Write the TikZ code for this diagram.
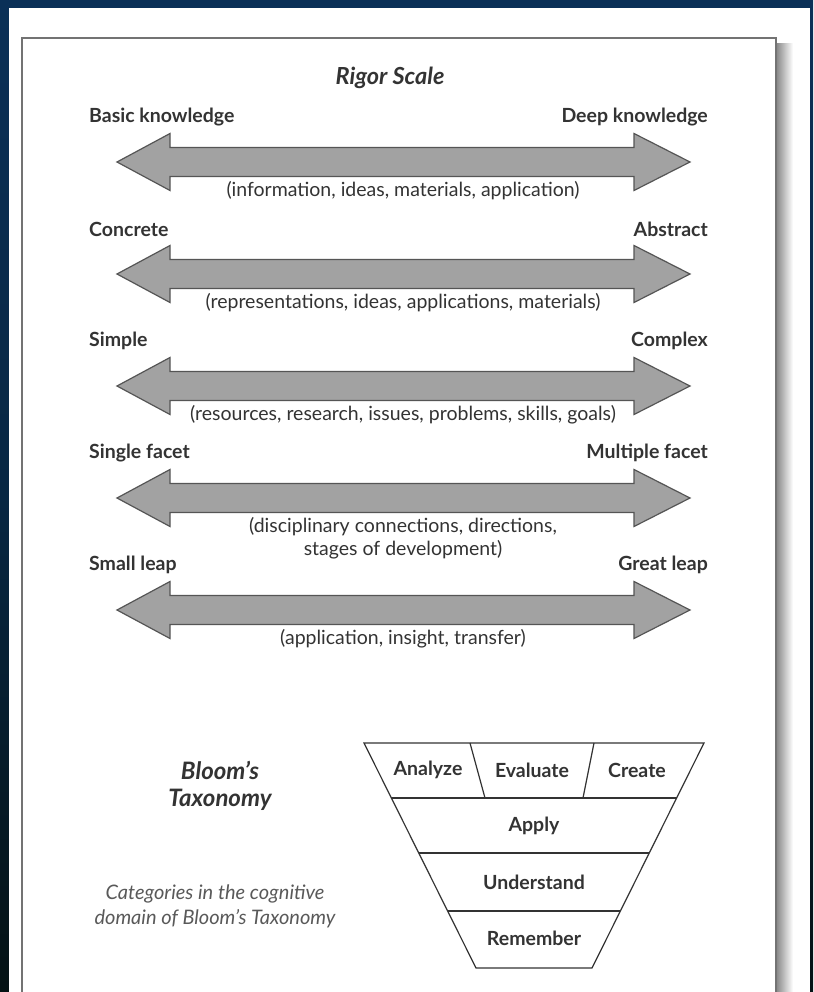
\documentclass[tikz,border=0pt]{standalone}
\usepackage{fontspec}
\setmainfont{Lato}
\usepackage{xcolor}

\definecolor{slidenavy}{HTML}{0A3057}
\definecolor{slidedark}{HTML}{041214}
\definecolor{inkgray}{HTML}{333333}
\definecolor{arrowfill}{HTML}{A2A2A2}
\definecolor{arrowedge}{HTML}{555555}

\tikzset{
	rigorarrow/.style={fill=arrowfill, draw=arrowedge, line width=1.2pt, line join=miter},
	sidelabel/.style={inner sep=0pt, text=inkgray, font=\fontsize{19.5}{22}\selectfont\bfseries},
	sublabel/.style={inner sep=0pt, text=inkgray, align=center, font=\fontsize{19.5}{23}\selectfont},
	bloomline/.style={draw=inkgray, line width=1.2pt},
	bloomlabel/.style={inner sep=0pt, text=inkgray, font=\fontsize{19.5}{22}\selectfont\bfseries}
}

\begin{document}
\begin{tikzpicture}[x=1pt,y=-1pt]
		\useasboundingbox (0,0) rectangle (813,992);
		\shade[top color=slidenavy, bottom color=slidedark, middle color=slidenavy!70!slidedark] (0,0) rectangle (813,992);
		\fill[white] (9,8) rectangle (810,992);
		\shade[left color=black!45, right color=white] (777,44) rectangle (793,992);
		\draw[black!55, line width=1.6pt] (22,1000) -- (22,38) -- (776,38) -- (776,1000);

		\node[inner sep=0pt, text=inkgray, font=\fontsize{23.5}{26}\selectfont\bfseries\itshape] (title) at (390,78) {Rigor Scale};

		\foreach \i/\lt/\rt/\sub in {
				1/Basic knowledge/Deep knowledge/{(information, ideas, materials, application)},
				2/Concrete/Abstract/{(representations, ideas, applications, materials)},
				3/Simple/Complex/{(resources, research, issues, problems, skills, goals)},
				4/Single facet/Multiple facet/{(disciplinary connections, directions,\\stages of development)},
				5/Small leap/Great leap/{(application, insight, transfer)}}
			{
				\pgfmathsetmacro{\yc}{50+112*\i}
				\filldraw[rigorarrow] (117,\yc) -- (170,\yc-28.5) -- (170,\yc-14.5) -- (634,\yc-14.5) -- (634,\yc-28.5) -- (690,\yc)
					-- (634,\yc+28.5) -- (634,\yc+14.5) -- (170,\yc+14.5) -- (170,\yc+28.5) -- cycle;
				\node[sidelabel, anchor=west] (l-\i) at (89,\yc-45) {\lt};
				\node[sidelabel, anchor=east] (r-\i) at (708,\yc-45) {\rt};
				\node[sublabel, anchor=north] (s-\i) at (403,\yc+19) {\sub};
			}

		\draw[bloomline] (364,743) -- (704,743) -- (592,968) -- (476,968) -- cycle;
		\foreach \yy in {798,853,911}
			\draw[bloomline] ({364+0.498*(\yy-743)},\yy) -- ({704-0.498*(\yy-743)},\yy);
		\draw[bloomline] (470,743) -- (485,798) (594,743) -- (583,798);
		\node[bloomlabel] (analyze) at (428,770) {Analyze};
		\node[bloomlabel] (evaluate) at (532,770) {Evaluate};
		\node[bloomlabel] (create) at (637,770) {Create};
		\node[bloomlabel] (apply) at (534,826) {Apply};
		\node[bloomlabel] (understand) at (534,882) {Understand};
		\node[bloomlabel] (remember) at (534,938) {Remember};

		\node[inner sep=0pt, text=inkgray, align=center, font=\fontsize{24}{27}\selectfont\bfseries\itshape] (bloom) at (220,786) {Bloom’s\\Taxonomy};
		\node[inner sep=0pt, text=black!65, align=center, font=\fontsize{20}{25}\selectfont\itshape] (caption) at (215,906) {Categories in the cognitive\\domain of Bloom’s Taxonomy};
	\end{tikzpicture}
\end{document}
